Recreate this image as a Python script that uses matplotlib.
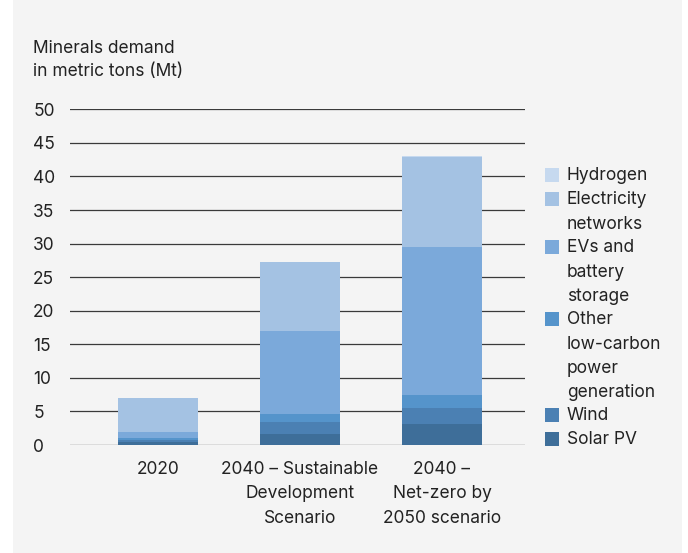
import matplotlib
matplotlib.use('Agg')
import matplotlib.pyplot as plt
from matplotlib.patches import Rectangle
import numpy as np

plt.rcParams['font.family'] = ['Inter', 'DejaVu Sans']

categories = ['2020', '2040 \u2013 Sustainable\nDevelopment\nScenario', '2040 \u2013\nNet-zero by\n2050 scenario']
solar_pv = [0.45, 1.64, 3.13]
wind = [0.30, 1.78, 2.38]
other_low_carbon = [0.30, 1.19, 1.93]
evs_battery = [0.90, 12.35, 22.02]
electricity = [5.05, 10.27, 13.44]
hydrogen = [0.0, 0.0, 0.10]

series = [
    ('Solar PV', solar_pv, '#3e6e99'),
    ('Wind', wind, '#4b80b3'),
    ('Other\nlow-carbon\npower\ngeneration', other_low_carbon, '#5594cb'),
    ('EVs and\nbattery\nstorage', evs_battery, '#7ba9da'),
    ('Electricity\nnetworks', electricity, '#a4c2e3'),
    ('Hydrogen', hydrogen, '#c6d9ef'),
]

FS = 12.5
TXT = '#222222'
W, H = 688, 553
fig = plt.figure(figsize=(W / 100, H / 100), dpi=100)
fig.patch.set_facecolor('white')
fig.patches.append(Rectangle((13 / W, 0), (682 - 13) / W, 1, transform=fig.transFigure,
                             facecolor='#f4f4f4', edgecolor='none', zorder=-10))

ax = fig.add_axes([70 / W, 1 - 445 / H, (525 - 70) / W, (445 - 109.3) / H])
ax.set_facecolor('none')

x = np.arange(len(categories))
bottom = np.zeros(len(categories))
for name, vals, col in series:
    ax.bar(x, vals, width=0.563, bottom=bottom, color=col, edgecolor='none', zorder=3)
    bottom += np.array(vals)

ax.set_xlim(-0.62, 2.585)
ax.set_ylim(0, 50)
ax.set_yticks(range(0, 51, 5))
ax.grid(axis='y', color='#3a3a3a', linewidth=0.9, zorder=0)
for s in ax.spines.values():
    s.set_visible(False)
ax.tick_params(axis='y', length=0, pad=26.5, labelsize=FS, labelcolor=TXT)
for lab in ax.get_yticklabels():
    lab.set_horizontalalignment('left')
ax.set_xticks(x)
ax.set_xticklabels(categories, fontsize=FS, color=TXT, linespacing=1.56)
ax.tick_params(axis='x', length=0, pad=11.5)

fig.text(33 / W, 1 - 40 / H, 'Minerals demand\nin metric tons (Mt)', fontsize=FS,
         color=TXT, va='top', ha='left', linespacing=1.45)

# legend drawn by hand so the swatch sits on the first line
line_h = 24
y0 = 175
row = 0
for name, vals, col in reversed(series):
    yc = y0 + row * line_h
    fig.patches.append(Rectangle((545 / W, 1 - (yc + 7) / H), 14 / W, 14 / H,
                                 transform=fig.transFigure, facecolor=col, edgecolor='none'))
    fig.text(567 / W, 1 - (yc - 7.5) / H, name, fontsize=FS, color=TXT,
             va='top', ha='left', linespacing=1.55)
    row += name.count('\n') + 1

fig.savefig('out.png', dpi=100, facecolor=fig.get_facecolor())
